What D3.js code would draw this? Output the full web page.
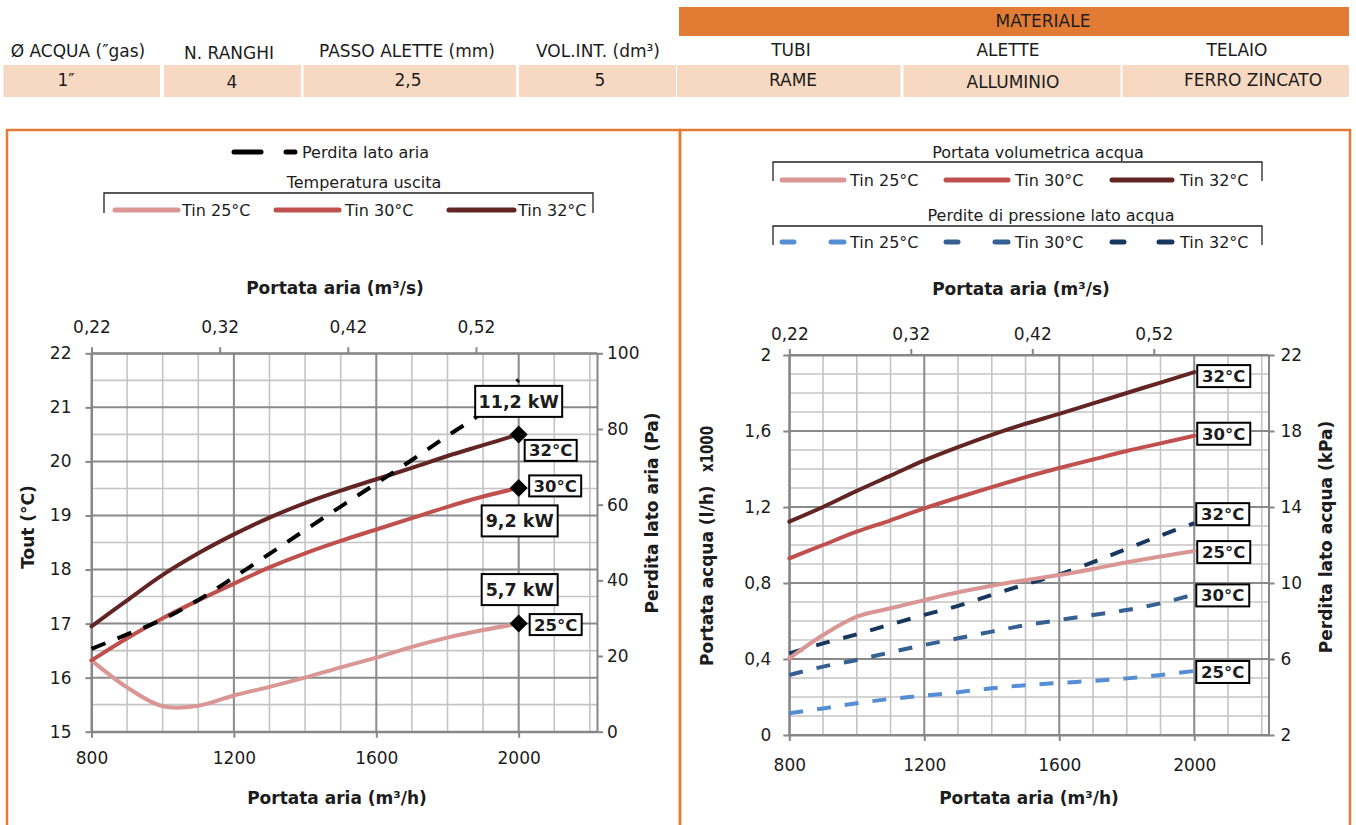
<!DOCTYPE html>
<html><head><meta charset="utf-8">
<script src="https://cdn.jsdelivr.net/npm/d3@7"></script>
<style>
body{margin:0;background:#fff}
svg{display:block}
text{font-family:"DejaVu Sans",Verdana,sans-serif;fill:#1c1c1c}
</style>
</head><body>
<svg id="c" width="1356" height="825"></svg>
<script>
// ---------------- DATA ----------------
const headerLabels = ["Ø ACQUA (\u2033gas)", "N. RANGHI", "PASSO ALETTE (mm)", "VOL.INT. (dm³)", "TUBI", "ALETTE", "TELAIO"];
const headerValues = ["1\u2033", "4", "2,5", "5", "RAME", "ALLUMINIO", "FERRO ZINCATO"];
const groupTitle = "MATERIALE";

const airflow = [800, 900, 1000, 1100, 1200, 1300, 1400, 1500, 1600, 1700, 1800, 1900, 2000];
// Left chart: outlet temperature (°C) and air-side pressure drop (Pa)
const tout25 = [16.32, 15.82, 15.47, 15.48, 15.67, 15.83, 16.0, 16.19, 16.37, 16.57, 16.74, 16.88, 17.0];
const tout30 = [16.32, 16.73, 17.1, 17.43, 17.74, 18.04, 18.3, 18.53, 18.74, 18.95, 19.16, 19.35, 19.51];
const tout32 = [16.95, 17.43, 17.9, 18.3, 18.65, 18.96, 19.23, 19.46, 19.67, 19.88, 20.1, 20.3, 20.5];
const perditaAria = [21.9, 25.7, 29.7, 34.8, 40.8, 47.0, 53.3, 59.5, 65.6, 71.8, 78.2, 84.5, 93.0];
// Right chart: water flow (l/h x1000) and water-side pressure drop (kPa)
const portata25 = [0.403, 0.526, 0.623, 0.667, 0.71, 0.751, 0.786, 0.815, 0.842, 0.874, 0.909, 0.939, 0.968];
const portata30 = [0.93, 1.0, 1.07, 1.13, 1.193, 1.25, 1.305, 1.357, 1.405, 1.45, 1.495, 1.535, 1.575];
const portata32 = [1.123, 1.20, 1.285, 1.365, 1.445, 1.515, 1.58, 1.638, 1.69, 1.745, 1.80, 1.855, 1.91];
const kpa25 = [3.14, 3.4, 3.67, 3.9, 4.07, 4.25, 4.46, 4.62, 4.74, 4.85, 4.98, 5.16, 5.37];
const kpa30 = [5.16, 5.6, 5.95, 6.35, 6.74, 7.09, 7.44, 7.78, 8.05, 8.32, 8.58, 8.93, 9.4];
const kpa32 = [6.3, 6.82, 7.3, 7.82, 8.32, 8.8, 9.37, 9.93, 10.45, 11.1, 11.8, 12.5, 13.15];

const tinNames = ["Tin 25°C", "Tin 30°C", "Tin 32°C"];
const tinLabels = ["25°C", "30°C", "32°C"];
const capacityLabels = ["5,7 kW", "9,2 kW", "11,2 kW"];

const xTicks = [800, 1200, 1600, 2000];
const xTopTicks = [0.22, 0.32, 0.42, 0.52];
const toutTicks = [15, 16, 17, 18, 19, 20, 21, 22];
const paTicks = [0, 20, 40, 60, 80, 100];
const portataTicks = [0, 0.4, 0.8, 1.2, 1.6, 2];
const kpaTicks = [2, 6, 10, 14, 18, 22];

// ---------------- STYLE ----------------
const ORANGE = "#e27c35", PEACH = "#f7d9c3";
const C25 = "#d99694", C30 = "#c0504d", C32 = "#632523";
const B25 = "#558ed5", B30 = "#376092", B32 = "#17375e";
const GRID_MAJ = "#8a8a8a", GRID_MIN = "#c4c4c4", AXIS = "#868686";
const FONT = '"DejaVu Sans",Verdana,sans-serif';
const fmt = v => String(+v.toFixed(2)).replace(".", ",");

const svg = d3.select("#c");

// ---------------- HEADER TABLE ----------------
const cellX = [[3.5,160],[164,301],[303.5,516],[519,676],[677,900.5],[903.5,1120.5],[1122.5,1349]];
const labelCx = [78, 229, 407, 598, 791, 1008, 1237];
const labelBase = [56.5, 59, 56.5, 56.5, 56, 56, 56];
const valueCx = [66, 232, 408, 600, 793, 1013, 1253];
const valueBase = [86, 88, 85.5, 86, 86, 88, 86];

svg.append("rect").attr("x", 679).attr("y", 7).attr("width", 670).attr("height", 29).attr("fill", ORANGE);
svg.append("text").attr("x", 1043).attr("y", 27.3).attr("text-anchor", "middle").attr("font-size", 17).text(groupTitle);

svg.selectAll("rect.cell").data(cellX).join("rect").attr("class","cell")
  .attr("x", d => d[0]).attr("y", 65).attr("width", d => d[1]-d[0]).attr("height", 32).attr("fill", PEACH);
svg.selectAll("text.hl").data(headerLabels).join("text").attr("class","hl")
  .attr("x", (d,i) => labelCx[i]).attr("y", (d,i) => labelBase[i]).attr("text-anchor","middle").attr("font-size", 17).text(d => d);
svg.selectAll("text.hv").data(headerValues).join("text").attr("class","hv")
  .attr("x", (d,i) => valueCx[i]).attr("y", (d,i) => valueBase[i]).attr("text-anchor","middle").attr("font-size", 17).text(d => d);

// panels
svg.append("rect").attr("x", 7).attr("y", 130).attr("width", 673).attr("height", 760).attr("fill","none").attr("stroke", ORANGE).attr("stroke-width", 2.5);
svg.append("rect").attr("x", 680).attr("y", 130).attr("width", 670).attr("height", 760).attr("fill","none").attr("stroke", ORANGE).attr("stroke-width", 2.5);

// ---------------- helpers ----------------
function labelBox(g, cx, cy, w, h, txt, fs) {
  g.append("rect").attr("x", cx - w/2).attr("y", cy - h/2).attr("width", w).attr("height", h)
    .attr("fill", "#fff").attr("stroke", "#000").attr("stroke-width", 2);
  g.append("text").attr("x", cx).attr("y", cy + fs*0.36).attr("text-anchor","middle")
    .attr("font-weight","bold").attr("font-size", fs).attr("fill","#000").text(txt);
}
function styleAxis(sel, fs) {
  sel.select(".domain").attr("stroke", AXIS).attr("stroke-width", 2);
  sel.selectAll(".tick line").attr("stroke", AXIS).attr("stroke-width", 2);
  sel.selectAll(".tick text").attr("font-size", fs).attr("fill", "#1c1c1c").attr("font-family", FONT);
}
function rotTitle(g, x, y, txt, anchor, len) {
  const t = g.append("text").attr("transform", `translate(${x},${y}) rotate(-90)`).attr("text-anchor", anchor || "middle")
    .attr("dominant-baseline","central").attr("font-weight","bold").attr("font-size", 17).text(txt);
  if (len) t.attr("textLength", len).attr("lengthAdjust", "spacingAndGlyphs");
}

function drawChart(o) {
  const g = svg.append("g");
  const xDom = [800, 2220];
  const x = d3.scaleLinear().domain(xDom).range([o.x0, o.x1]);
  const xTop = d3.scaleLinear().domain([0.22, 0.22 + (xDom[1]-xDom[0])/3600]).range([o.x0, o.x1]);
  const y = d3.scaleLinear().domain(o.yDom).range([o.yB, o.yT]);
  const y2 = d3.scaleLinear().domain(o.y2Dom).range([o.yB, o.yT]);

  // grid
  const vMinor = d3.range(800, xDom[1] + 1, 100).filter(v => !xTicks.includes(v));
  const hAll = d3.range(o.yDom[0], o.yDom[1] + 1e-9, o.yMinor).map(v => +v.toFixed(4));
  const hMinor = hAll.filter(v => !o.yTicks.some(t => Math.abs(t - v) < 1e-6));
  g.selectAll("line.vmin").data(vMinor).join("line").attr("x1", d => x(d)).attr("x2", d => x(d))
    .attr("y1", o.yT).attr("y2", o.yB).attr("stroke", GRID_MIN).attr("stroke-width", 1.6);
  g.selectAll("line.hmin").data(hMinor).join("line").attr("y1", d => y(d)).attr("y2", d => y(d))
    .attr("x1", o.x0).attr("x2", o.x1).attr("stroke", GRID_MIN).attr("stroke-width", 1.6);
  g.selectAll("line.vmaj").data(xTicks).join("line").attr("x1", d => x(d)).attr("x2", d => x(d))
    .attr("y1", o.yT).attr("y2", o.yB).attr("stroke", GRID_MAJ).attr("stroke-width", 2);
  g.selectAll("line.hmaj").data(o.yTicks).join("line").attr("y1", d => y(d)).attr("y2", d => y(d))
    .attr("x1", o.x0).attr("x2", o.x1).attr("stroke", GRID_MAJ).attr("stroke-width", 2);

  // axes
  const fs = 17;
  styleAxis(g.append("g").attr("transform", `translate(0,${o.yB})`)
    .call(d3.axisBottom(x).tickValues(xTicks).tickFormat(d => d).tickSize(6).tickSizeOuter(0).tickPadding(o.bPad)), fs);
  styleAxis(g.append("g").attr("transform", `translate(0,${o.yT})`)
    .call(d3.axisTop(xTop).tickValues(xTopTicks).tickFormat(fmt).tickSize(6).tickSizeOuter(0).tickPadding(o.tPad)), fs);
  styleAxis(g.append("g").attr("transform", `translate(${o.x0},0)`)
    .call(d3.axisLeft(y).tickValues(o.yTicks).tickFormat(fmt).tickSize(6).tickSizeOuter(0).tickPadding(o.lPad)), fs);
  styleAxis(g.append("g").attr("transform", `translate(${o.x1},0)`)
    .call(d3.axisRight(y2).tickValues(o.y2Ticks).tickFormat(fmt).tickSize(6).tickSizeOuter(0).tickPadding(o.rPad)), fs);

  // titles
  g.append("text").attr("x", o.topTitleX).attr("y", o.topTitleY).attr("text-anchor","middle").attr("font-weight","bold").attr("font-size", 17).text("Portata aria (m³/s)");
  g.append("text").attr("x", o.botTitleX).attr("y", o.botTitleY).attr("text-anchor","middle").attr("font-weight","bold").attr("font-size", 17).text("Portata aria (m³/h)");
  o.titles.forEach(t => rotTitle(g, t[0], t[1], t[2], t[3], t[4]));

  return {g, x, y, y2};
}

function seriesLine(g, xs, ys, sx, sy, color, dash) {
  const line = d3.line().x((d, i) => sx(xs[i])).y(d => sy(d)).curve(d3.curveCatmullRom.alpha(0.5));
  const p = g.append("path").datum(ys).attr("d", line).attr("fill","none").attr("stroke", color)
    .attr("stroke-width", 4).attr("stroke-linejoin","round");
  if (dash) p.attr("stroke-dasharray", dash); else p.attr("stroke-linecap","round");
  return p;
}

// ---------------- LEFT CHART ----------------
const L = drawChart({x0: 91.5, x1: 597, yT: 353.3, yB: 731.7, yDom: [15, 22], y2Dom: [0, 100], yMinor: 0.5,
  yTicks: toutTicks, y2Ticks: paTicks, bPad: 14, tPad: 14, lPad: 14, rPad: 4,
  topTitleX: 335, topTitleY: 294, botTitleX: 337, botTitleY: 804,
  titles: [[28, 527, "Tout (°C)"], [652, 513, "Perdita lato aria (Pa)"]]});

const toutSeries = [tout25, tout30, tout32];
const toutColors = [C25, C30, C32];
toutSeries.forEach((s, i) => seriesLine(L.g, airflow, s, L.x, L.y, toutColors[i]));
seriesLine(L.g, airflow, perditaAria, L.x, L.y2, "#000", "15,13");

// end markers and boxes
const kwOff = [[1, -34, 76], [1, 33, 76], [0, -33, 87]];
const degOff = [[37, 1], [36.5, -2], [32, 16]];
toutSeries.forEach((s, i) => {
  const px = L.x(airflow[airflow.length-1]), py = L.y(s[s.length-1]);
  L.g.append("path").attr("d", `M${px},${py-9}L${px+9},${py}L${px},${py+9}L${px-9},${py}Z`).attr("fill", "#000");
  labelBox(L.g, px + kwOff[i][0], py + kwOff[i][1], kwOff[i][2], 31, capacityLabels[i], 17.5);
  labelBox(L.g, px + degOff[i][0], py + degOff[i][1], 52, 21, tinLabels[i], 16.5);
});

// left legend
const lg = svg.append("g");
lg.append("line").attr("x1", 234).attr("x2", 261).attr("y1", 152).attr("y2", 152).attr("stroke","#000").attr("stroke-width",5).attr("stroke-linecap","round");
lg.append("line").attr("x1", 286).attr("x2", 295).attr("y1", 152).attr("y2", 152).attr("stroke","#000").attr("stroke-width",5).attr("stroke-linecap","round");
lg.append("text").attr("x", 302).attr("y", 158).attr("font-size", 16).text("Perdita lato aria");
lg.append("text").attr("x", 364).attr("y", 188).attr("text-anchor","middle").attr("font-size", 16).text("Temperatura uscita");
lg.append("path").attr("d", "M104,213V193H593V213").attr("fill","none").attr("stroke","#222").attr("stroke-width",1.3);
const lgX = [[115,178,182],[276,339,345],[449,514,518]];
tinNames.forEach((t, i) => {
  lg.append("line").attr("x1", lgX[i][0]).attr("x2", lgX[i][1]).attr("y1", 210).attr("y2", 210).attr("stroke", toutColors[i]).attr("stroke-width",5).attr("stroke-linecap","round");
  lg.append("text").attr("x", lgX[i][2]).attr("y", 216).attr("font-size", 16).text(t);
});

// ---------------- RIGHT CHART ----------------
const R = drawChart({x0: 789.3, x1: 1268.5, yT: 355, yB: 735, yDom: [0, 2], y2Dom: [2, 22], yMinor: 0.1,
  yTicks: portataTicks, y2Ticks: kpaTicks, bPad: 18, tPad: 9.5, lPad: 12, rPad: 6,
  topTitleX: 1021, topTitleY: 295, botTitleX: 1029, botTitleY: 804,
  titles: [[707, 666, "Portata acqua (l/h)", "start"], [707, 426, "x1000", "end", 46], [1326, 537, "Perdita lato acqua (kPa)"]]});

const kpaSeries = [kpa25, kpa30, kpa32];
const kpaColors = [B25, B30, B32];
const portataSeries = [portata25, portata30, portata32];
kpaSeries.forEach((s, i) => seriesLine(R.g, airflow, s, R.x, R.y2, kpaColors[i], "14,14"));
portataSeries.forEach((s, i) => seriesLine(R.g, airflow, s, R.x, R.y, toutColors[i]));

const pOff = [1, -2, 4], kOff = [1, 1, -9];
portataSeries.forEach((s, i) => {
  const px = R.x(airflow[airflow.length-1]) + 3 + 26.5, py = R.y(s[s.length-1]) + pOff[i];
  labelBox(R.g, px, py, 53, 22, tinLabels[i], 16.5);
});
kpaSeries.forEach((s, i) => {
  const px = R.x(airflow[airflow.length-1]) + 2 + 26.5, py = R.y2(s[s.length-1]) + kOff[i];
  labelBox(R.g, px, py, 53, 22, tinLabels[i], 16.5);
});

// right legend
const rg = svg.append("g");
rg.append("text").attr("x", 1038).attr("y", 158).attr("text-anchor","middle").attr("font-size", 16).text("Portata volumetrica acqua");
rg.append("path").attr("d", "M773,181V162H1262V181").attr("fill","none").attr("stroke","#222").attr("stroke-width",1.3);
rg.append("text").attr("x", 1051).attr("y", 221).attr("text-anchor","middle").attr("font-size", 16).text("Perdite di pressione lato acqua");
rg.append("path").attr("d", "M773,245V226H1262V245").attr("fill","none").attr("stroke","#222").attr("stroke-width",1.3);
const rgX = [[780,846,850],[944,1010,1015],[1110,1174,1180]];
tinNames.forEach((t, i) => {
  rg.append("line").attr("x1", rgX[i][0]+2).attr("x2", rgX[i][1]-2).attr("y1", 180).attr("y2", 180).attr("stroke", toutColors[i]).attr("stroke-width",5).attr("stroke-linecap","round");
  rg.append("text").attr("x", rgX[i][2]).attr("y", 186).attr("font-size", 16).text(t);
  rg.append("line").attr("x1", rgX[i][0]+2).attr("x2", rgX[i][0]+14).attr("y1", 242).attr("y2", 242).attr("stroke", kpaColors[i]).attr("stroke-width",5).attr("stroke-linecap","round");
  rg.append("line").attr("x1", rgX[i][1]-15).attr("x2", rgX[i][1]-2).attr("y1", 242).attr("y2", 242).attr("stroke", kpaColors[i]).attr("stroke-width",5).attr("stroke-linecap","round");
  rg.append("text").attr("x", rgX[i][2]).attr("y", 248).attr("font-size", 16).text(t);
});
</script>
</body></html>
